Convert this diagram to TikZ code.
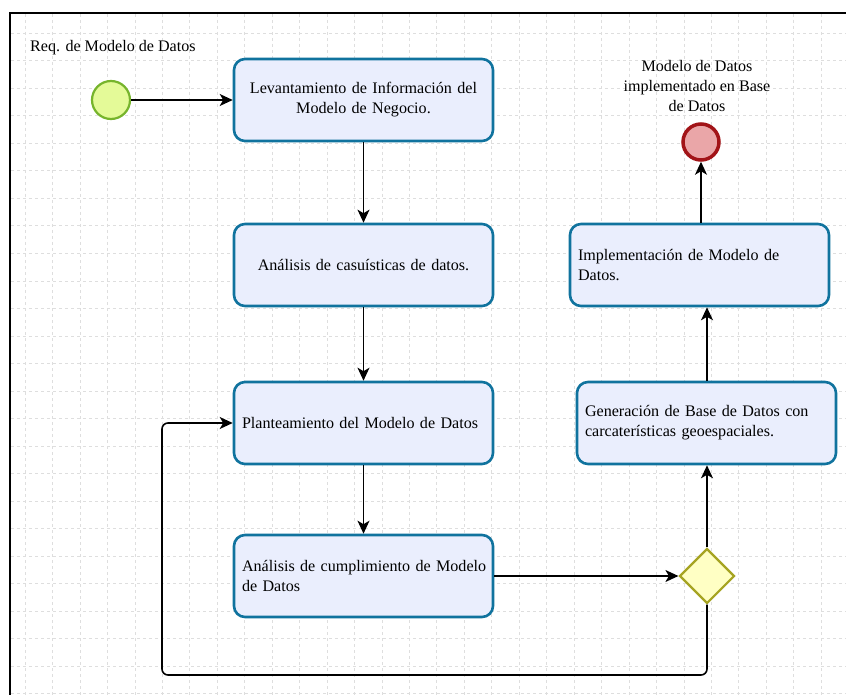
\documentclass[tikz,border=0pt]{standalone}
\usepackage{fontspec}
\setmainfont{Liberation Serif}
\usetikzlibrary{shapes.geometric,arrows.meta}
\definecolor{cajafondo}{RGB}{234,238,253}
\definecolor{cajaborde}{RGB}{16,115,158}
\definecolor{iniciofondo}{RGB}{228,250,152}
\definecolor{inicioborde}{RGB}{118,180,44}
\definecolor{finfondo}{RGB}{234,166,168}
\definecolor{finborde}{RGB}{162,20,24}
\definecolor{rombofondo}{RGB}{255,255,196}
\definecolor{romboborde}{RGB}{166,164,34}
\definecolor{rejilla}{RGB}{222,222,222}
\tikzset{
  paso/.style={draw=cajaborde, fill=cajafondo, line width=2.6pt, rounded corners=11pt,
    minimum width=259pt, minimum height=82pt, inner sep=0pt},
  pasoizq/.style={paso, text width=243pt, align=left},
  pasocen/.style={paso, text width=243pt, align=center},
  flujo/.style={line width=1.2pt, -{Stealth[length=13pt,width=12pt,inset=3.5pt]}},
}
\begin{document}
\begin{tikzpicture}[x=1pt, y=-1pt, font=\fontsize{16.1}{20}\selectfont]
\useasboundingbox (0,0) rectangle (846,695);
% rejilla y marco
\fill[white] (0,0) rectangle (846,695);
\foreach \x in {25,52.45,...,846} \draw[rejilla, line width=0.6pt, dash pattern=on 3pt off 3pt] (\x,14) -- (\x,695);
\foreach \y in {33.3,60.8,...,695} \draw[rejilla, line width=0.6pt, dash pattern=on 3pt off 3pt] (11,\y) -- (846,\y);
\draw[line width=2.6pt] (10,700) |- (850,13);

% eventos
\node[circle, draw=inicioborde, fill=iniciofondo, line width=2.2pt, minimum size=38pt] (inicio) at (111,100) {};
\node[anchor=west, inner sep=0pt] (req) at (30,48) {Req. de Modelo de Datos};
\node[circle, draw=finborde, fill=finfondo, line width=3.5pt, minimum size=36pt] (fin) at (701,142) {};
\node[align=center, anchor=south, inner sep=0pt] (finlbl) at (697,112) {Modelo de Datos\\implementado en Base\\de Datos};

% actividades
\node[pasocen] (p1) at (363.5,100) {Levantamiento de Información del\\Modelo de Negocio.};
\node[pasocen] (p2) at (363.5,265) {Análisis de casuísticas de datos.};
\node[pasoizq] (p3) at (363.5,423) {Planteamiento del Modelo de Datos};
\node[pasoizq] (p4) at (363.5,576) {\mbox{Análisis de cumplimiento de Modelo}\\de Datos};
\node[pasoizq] (p5) at (706.5,423) {Generación de Base de Datos con\\carcaterísticas geoespaciales.};
\node[pasoizq] (p6) at (699.5,265) {Implementación de Modelo de\\Datos.};
\node[diamond, draw=romboborde, fill=rombofondo, line width=2.2pt, minimum size=55pt, inner sep=0pt] (dec) at (707,576) {};
\coordinate (vuelta) at (162,675);

% conectores
\draw[flujo] (inicio) -- (p1);
\draw[flujo] (p1) -- (p2);
\draw[flujo] (p2) -- (p3);
\draw[flujo] (p3) -- (p4);
\draw[flujo] (p4) -- (dec);
\draw[flujo, line width=1.8pt] (dec) -- (dec |- p5.south);
\draw[flujo] (p5.north -| dec) -- (dec |- p6.south);
\draw[flujo] (p6.north -| fin) -- (fin);
\draw[flujo, line width=1.6pt, rounded corners=6pt] (dec.south) |- (vuelta) |- (p3.west);
\end{tikzpicture}
\end{document}
